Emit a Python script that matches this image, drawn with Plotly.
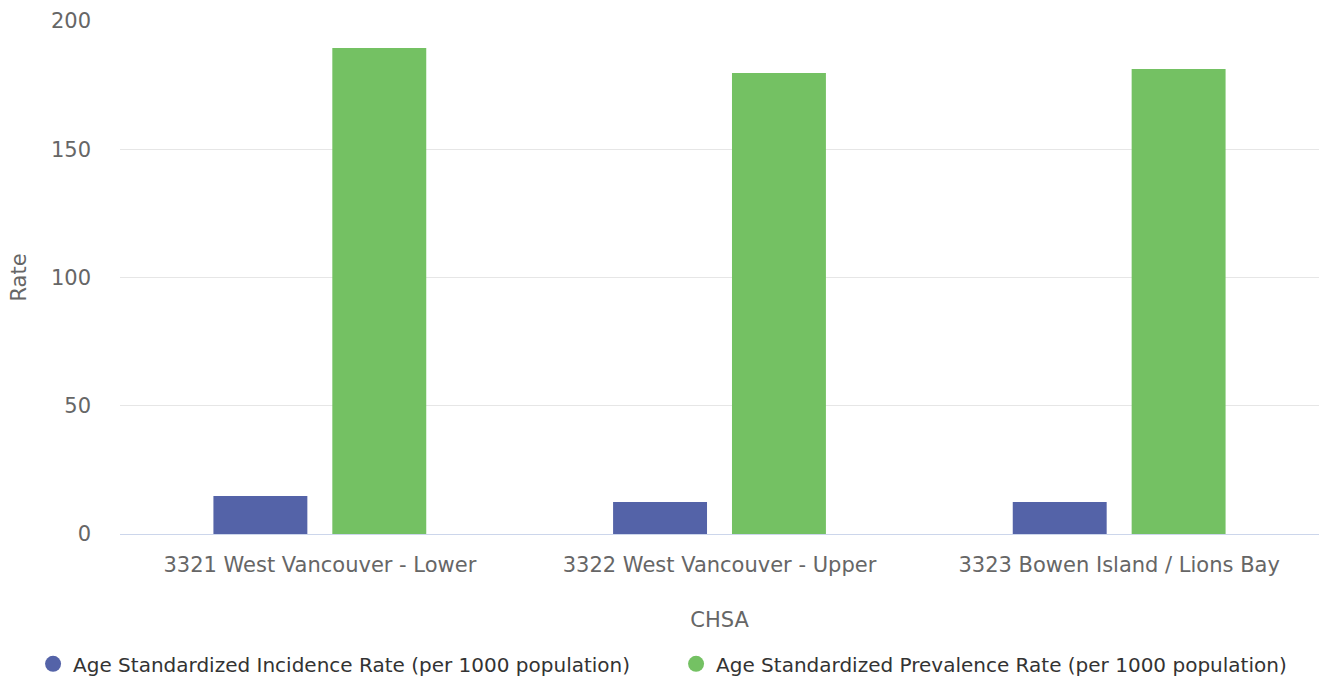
import plotly.graph_objects as go

categories = ["3321 West Vancouver - Lower", "3322 West Vancouver - Upper", "3323 Bowen Island / Lions Bay"]
incidence = [14.8, 12.5, 12.5]
prevalence = [189.5, 179.7, 181.3]
series_names = ["Age Standardized Incidence Rate (per 1000 population)",
                "Age Standardized Prevalence Rate (per 1000 population)"]
colors = ["#5463a8", "#74c163"]
y_ticks = [0, 50, 100, 150, 200]

FONT = "DejaVu Sans"

fig = go.Figure()
for name, vals, col in zip(series_names, [incidence, prevalence], colors):
    fig.add_trace(go.Bar(x=categories, y=vals, name=name, marker_color=col,
                         marker_line_width=0, showlegend=False))
for name, col in zip(series_names, colors):
    fig.add_trace(go.Scatter(x=[None], y=[None], mode="markers", name=name,
                             marker=dict(symbol="circle", size=16, color=col)))

fig.update_layout(
    width=1319, height=679,
    margin=dict(l=120, r=0, t=21, b=145, autoexpand=False),
    paper_bgcolor="white", plot_bgcolor="white",
    barmode="group", bargap=0.405, bargroupgap=0.21,
    font=dict(family=FONT, size=20, color="#666666"),
    showlegend=True,
    legend=dict(orientation="h", x=-0.0725, xanchor="left",
                y=-0.253, yanchor="middle",
                font=dict(family=FONT, size=20, color="#333333"),
                itemsizing="trace", entrywidth=598, entrywidthmode="pixels",
                tracegroupgap=0),
    xaxis=dict(title=dict(text="CHSA", font=dict(size=21, color="#666666"), standoff=36),
               showline=True, linecolor="#ccd6eb", linewidth=1, showgrid=False,
               tickfont=dict(size=21, color="#666666"), ticks="",
               ticklabelstandoff=12, automargin=False),
    yaxis=dict(title=dict(text="Rate", font=dict(size=21, color="#666666"), standoff=18),
               range=[0, 200], tickvals=y_ticks, showgrid=True, gridcolor="#e6e6e6",
               zeroline=False, tickfont=dict(size=21, color="#666666"),
               ticklabelstandoff=28, automargin=False),
)

fig.write_html("out.html", config={"displayModeBar": False},
               post_script="document.body.style.margin='0';document.body.style.overflow='hidden';")
